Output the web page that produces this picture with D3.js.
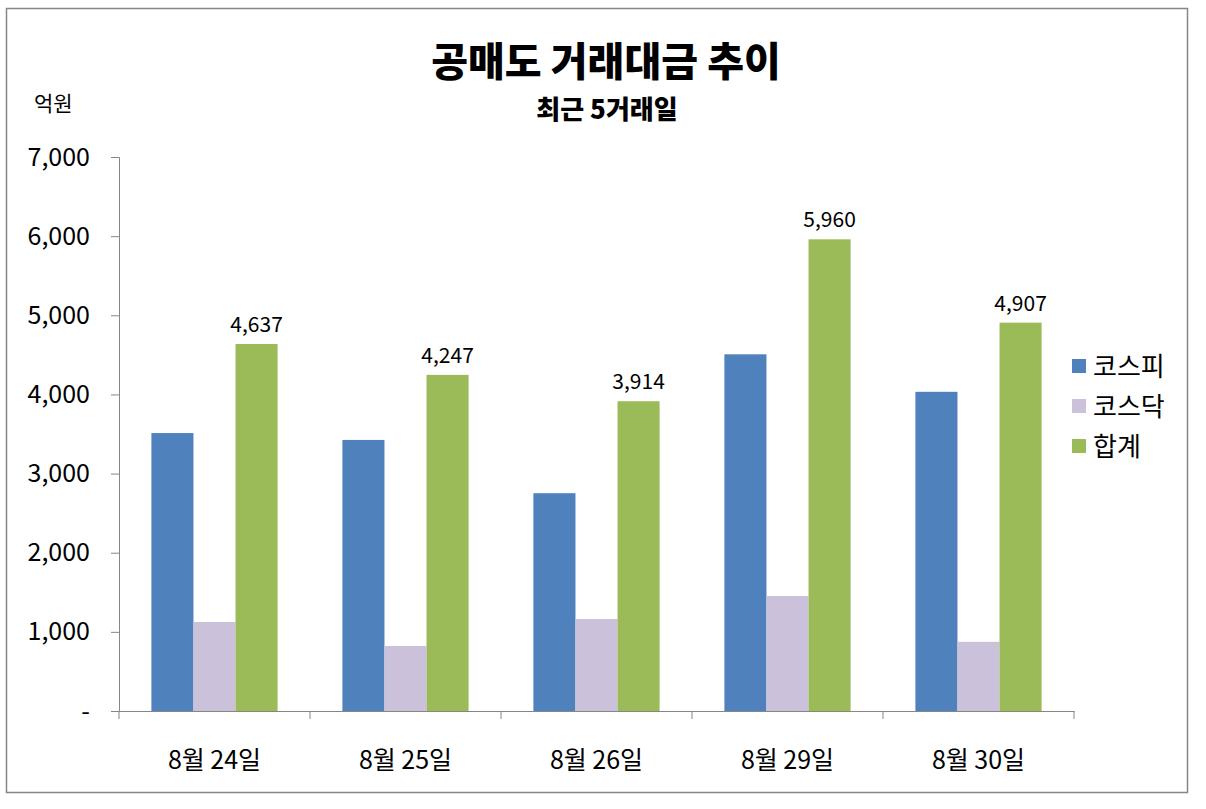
<!DOCTYPE html>
<html>
<head>
<meta charset="utf-8">
<title>공매도 거래대금 추이</title>
<script src="https://d3js.org/d3.v7.min.js"></script>
<style>
  body { margin: 0; background: #fff; }
  text { font-family: "Noto Sans CJK KR", "Noto Sans", sans-serif; fill: #000; }
</style>
</head>
<body>
<div id="chart"></div>
<script>
// data (억원)
const dates = ['8월 24일', '8월 25일', '8월 26일', '8월 29일', '8월 30일'];
const seriesNames = ['코스피', '코스닥', '합계'];
const kospi = [3512, 3425, 2752, 4507, 4033];
const kosdaq = [1125, 822, 1162, 1453, 874];
const total = [4637, 4247, 3914, 5960, 4907];
const yTicks = [0, 1000, 2000, 3000, 4000, 5000, 6000, 7000];

const colors = ['#4F81BD', '#CCC1DA', '#9BBB59'];
const W = 1206, H = 809;
const margin = { top: 157, right: 132, bottom: 98, left: 119 };

const svg = d3.select('#chart').append('svg')
  .attr('width', W).attr('height', H);

// outer frame
svg.append('rect')
  .attr('x', 6.5).attr('y', 8.5)
  .attr('width', 1181).attr('height', 784)
  .attr('fill', 'none').attr('stroke', '#868686').attr('stroke-width', 1.5);

const x0 = d3.scaleBand().domain(dates)
  .range([margin.left, W - margin.right]).paddingInner(0).paddingOuter(0);
const x1 = d3.scaleBand().domain(seriesNames)
  .range([0, x0.bandwidth()]).paddingInner(0).paddingOuter(0.77);
const y = d3.scaleLinear().domain([0, 7000]).range([H - margin.bottom, margin.top]);

const rows = dates.map((d, i) => ({ date: d, vals: [kospi[i], kosdaq[i], total[i]] }));

// bars
const grp = svg.append('g').selectAll('g').data(rows).enter().append('g')
  .attr('transform', d => `translate(${x0(d.date)},0)`);
grp.selectAll('rect').data(d => d.vals.map((v, k) => ({ k, v }))).enter().append('rect')
  .attr('x', d => x1(seriesNames[d.k]))
  .attr('y', d => y(d.v))
  .attr('width', x1.bandwidth())
  .attr('height', d => y(0) - y(d.v))
  .attr('fill', d => colors[d.k]);

// labels on the total bars
grp.append('text')
  .attr('x', x1('합계') + x1.bandwidth() / 2)
  .attr('y', d => y(d.vals[2]) - 12)
  .attr('text-anchor', 'middle')
  .style('font-size', '21px')
  .text(d => d3.format(',')(d.vals[2]));

// y axis
const yAxis = svg.append('g').attr('transform', `translate(${margin.left},0)`)
  .call(d3.axisLeft(y).tickValues(yTicks).tickSize(8).tickPadding(21)
    .tickFormat(d => d === 0 ? '-' : d3.format(',')(d)));
yAxis.select('.domain').attr('stroke', '#868686');
yAxis.selectAll('.tick line').attr('stroke', '#868686');
yAxis.selectAll('.tick text').style('font-size', '25px').attr('fill', '#000');

// x axis
const xAxis = svg.append('g').attr('transform', `translate(0,${y(0)})`)
  .call(d3.axisBottom(x0).tickSize(0).tickPadding(40));
xAxis.select('.domain').attr('stroke', '#868686');
xAxis.selectAll('.tick text').style('font-size', '25px').attr('fill', '#000');
// category boundary ticks
const bounds = dates.map(d => x0(d)).concat([x0.range()[1]]);
svg.append('g').selectAll('line').data(bounds).enter().append('line')
  .attr('x1', d => d).attr('x2', d => d)
  .attr('y1', y(0)).attr('y2', y(0) + 8)
  .attr('stroke', '#868686');

// titles
svg.append('text').attr('x', 606).attr('y', 76)
  .attr('text-anchor', 'middle')
  .style('font-size', '40px').style('font-weight', 900)
  .text('공매도 거래대금 추이');
svg.append('text').attr('x', 607).attr('y', 119)
  .attr('text-anchor', 'middle')
  .style('font-size', '26px').style('font-weight', 900)
  .text('최근 5거래일');
svg.append('text').attr('x', 34).attr('y', 111)
  .style('font-size', '21px')
  .text('억원');

// legend
const lg = svg.append('g').selectAll('g').data(seriesNames).enter().append('g')
  .attr('transform', (d, i) => `translate(1072,${359 + i * 40})`);
lg.append('rect').attr('width', 14).attr('height', 14).attr('fill', (d, i) => colors[i]);
lg.append('text').attr('x', 21).attr('y', 17)
  .style('font-size', '26px').text(d => d);
</script>
</body>
</html>
